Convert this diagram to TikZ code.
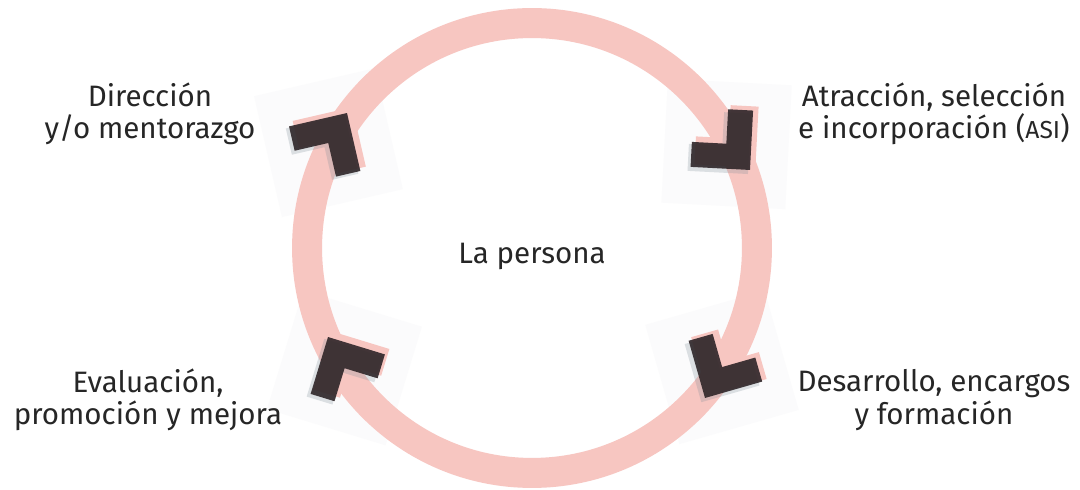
\documentclass[tikz,border=0pt]{standalone}
\usepackage{fontspec}
\setmainfont{Fira Sans}
\usetikzlibrary{calc}
\definecolor{ringpink}{HTML}{F7C6C1}
\definecolor{ink}{HTML}{2E2528}
\definecolor{fringe}{HTML}{7E8C98}
\definecolor{txt}{HTML}{262626}
\definecolor{faint}{HTML}{FBFBFC}
\newcommand\mychevron[3]{% #1 name, #2 tip coordinate, #3 tip angle
  \coordinate (#1tip) at (#2);
  \coordinate (#1v) at ($(#1tip)+(#3+180:17.7)$);
  \coordinate (#1a) at ($(#1v)+(#3+135:47)$);
  \coordinate (#1b) at ($(#1v)+(#3-135:47)$);
  \draw[chevpink] ($(#1a)+(4,4)$) -- ($(#1v)+(4,4)$) -- ($(#1b)+(4,4)$);
  \draw[chevfringe] ($(#1a)+(-3,-3)$) -- ($(#1v)+(-3,-3)$) -- ($(#1b)+(-3,-3)$);
  \draw[chevink] (#1a) -- (#1v) -- (#1b);
}
\newcommand\mysquare[3]{%
  \fill[faint, rotate around={#3+45:($(#2)+(#3+180:35)$)}] ($(#2)+(#3+180:35)+(-62,-62)$) rectangle ($(#2)+(#3+180:35)+(62,62)$);
}
\begin{document}
\begin{tikzpicture}[x=0.02cm,y=0.02cm,
  lbl/.style={font=\fontsize{16.8}{18.4}\selectfont, text=txt, align=center, inner sep=0pt},
  chevpink/.style={draw=ringpink, line width=0.56cm, line join=miter},
  chevfringe/.style={draw=fringe, line width=0.54cm, line join=miter, opacity=0.25},
  chevink/.style={draw=ink, line width=0.5cm, line join=miter, opacity=0.9}]
\useasboundingbox (0,0) rectangle (1080,490);
\fill[white] (0,0) rectangle (1080,490);
\mysquare{tl}{347,377}{58}
\mysquare{tr}{750,320}{-48}
\mysquare{br}{705,92}{241}
\mysquare{bl}{328,153}{118}
\coordinate (c) at (532,242);
\draw[ringpink, line width=0.6cm] (c) circle[radius=4.5cm];
\mychevron{tl}{347,377}{58}
\mychevron{tr}{750,320}{-48}
\mychevron{br}{705,92}{241}
\mychevron{bl}{328,153}{118}
\node[lbl] (center) at (532,234) {La persona};
\node[lbl] (dir) at (150,376) {Dirección\\y/o mentorazgo};
\node[lbl] (asi) at (934,376) {Atracción, selección\\e incorporación ({\fontsize{14}{15}\selectfont ASI})};
\node[lbl] (eval) at (148,90) {Evaluación,\\promoción y mejora};
\node[lbl] (des) at (934,90) {Desarrollo, encargos\\y formación};
\end{tikzpicture}
\end{document}
